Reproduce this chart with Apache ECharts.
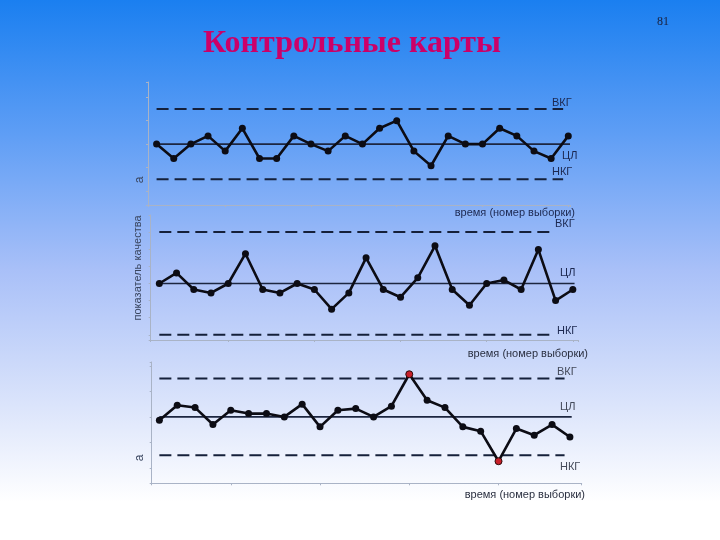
<!DOCTYPE html>
<html>
<head>
<meta charset="utf-8">
<style>
html,body{margin:0;padding:0;width:720px;height:540px;overflow:hidden;}
#c{width:720px;height:540px;}
</style>
<script src="https://cdn.jsdelivr.net/npm/echarts@6/dist/echarts.min.js"></script>
</head>
<body>
<div id="c"></div>
<script>
// ---- data (values in sigma units, centre line = 0) ----
const chart1Values = [0,-1.23,0,0.7,-0.6,1.35,-1.23,-1.23,0.7,0,-0.6,0.7,0,1.35,2.0,-0.6,-1.85,0.7,0,0,1.35,0.7,-0.6,-1.23,0.7];
const chart2Values = [0,0.62,-0.35,-0.55,0,1.74,-0.35,-0.55,0,-0.35,-1.5,-0.55,1.5,-0.35,-0.8,0.33,2.2,-0.35,-1.27,0,0.2,-0.35,1.98,-1.0,-0.35];
const chart3Values = [-0.26,0.91,0.73,-0.6,0.52,0.26,0.26,0,1.0,-0.78,0.52,0.65,0,0.84,3.34,1.3,0.73,-0.78,-1.12,-3.47,-0.91,-1.43,-0.6,-1.57];
const chart3OutOfControl = [15, 20];          // sample numbers drawn in red
const limitUCL = 3, limitCL = 0, limitLCL = -3;
const limitNames = ['ВКГ', 'ЦЛ', 'НКГ'];
const titleText = 'Контрольные карты';
const pageNumber = '81';
const xAxisTitle = 'время (номер выборки)';
const yAxisTitle = 'показатель качества';

// ---- layout ----
const grids = [
  {left:148,   top:82,  width:422,   height:123,   xMin:0.5,  xMax:25.1,  yMin:-5.2, yMax:5.3,
   dashFrom:1, dashTo:24.7, clFrom:0.9, clTo:25.1},
  {left:150.7, top:215, width:427.3, height:125,   xMin:0.5,  xMax:25.3,  yMin:-3.3, yMax:4.0,
   dashFrom:1, dashTo:23.7, clFrom:0.93, clTo:25.1},
  {left:151.7, top:362, width:430,   height:121.3, xMin:0.57, xMax:24.66, yMin:-5.2, yMax:4.3,
   dashFrom:1, dashTo:23.7, clFrom:1, clTo:24.1}
];
const allValues = [chart1Values, chart2Values, chart3Values];

const axisCol = '#a9b3c6';
const lineCol = '#0c0c14';
const limitCol = '#15203a';

const option = {
  backgroundColor: new echarts.graphic.LinearGradient(0,0,0,1,[
    {offset:0, color:'#1a7ff0'},
    {offset:0.25, color:'#5f9ef5'},
    {offset:0.5, color:'#a9c0f8'},
    {offset:0.75, color:'#dbe4fb'},
    {offset:0.93, color:'#ffffff'},
    {offset:1, color:'#ffffff'}
  ]),
  animation:false,
  grid: grids.map(g => ({left:g.left, top:g.top, width:g.width, height:g.height})),
  xAxis: grids.map((g,i) => ({
    type:'value', gridIndex:i, min:g.xMin, max:g.xMax,
    axisLine:{show:true, onZero:false, lineStyle:{color:axisCol, width:1}},
    axisTick:{show:true, length:2, lineStyle:{color:axisCol}},
    axisLabel:{show:false}, splitLine:{show:false}
  })),
  yAxis: grids.map((g,i) => ({
    type:'value', gridIndex:i, min:g.yMin, max:g.yMax,
    axisLine:{show:true, lineStyle:{color:axisCol, width:1}},
    axisTick:{show:true, length:2, lineStyle:{color:axisCol}},
    axisLabel:{show:false}, splitLine:{show:false}
  })),
  series: [],
  graphic: []
};

grids.forEach((g,i) => {
  // limit lines
  option.series.push({
    type:'line', xAxisIndex:i, yAxisIndex:i, symbol:'none', silent:true,
    data:[[g.dashFrom, limitUCL],[g.dashTo, limitUCL]],
    lineStyle:{color:limitCol, width:2, type:[12,6]}, z:1
  });
  option.series.push({
    type:'line', xAxisIndex:i, yAxisIndex:i, symbol:'none', silent:true,
    data:[[g.dashFrom, limitLCL],[g.dashTo, limitLCL]],
    lineStyle:{color:limitCol, width:2, type:[12,6]}, z:1
  });
  option.series.push({
    type:'line', xAxisIndex:i, yAxisIndex:i, symbol:'none', silent:true,
    data:[[g.clFrom, limitCL],[g.clTo, limitCL]],
    lineStyle:{color:'#1c2640', width:1.6}, z:1
  });
  // measured values
  const vals = allValues[i];
  option.series.push({
    type:'line', xAxisIndex:i, yAxisIndex:i,
    data: vals.map((v,k) => {
      const n = k+1;
      const item = {value:[n, v]};
      if (i === 2 && chart3OutOfControl.includes(n)) {
        item.itemStyle = {color:'#c8202a', borderColor:'#2a0a0a', borderWidth:1};
      }
      return item;
    }),
    symbol:'circle', symbolSize:7, showSymbol:true,
    itemStyle:{color:lineCol, borderColor:lineCol, borderWidth:0},
    lineStyle:{color:lineCol, width:2.6}, z:3
  });
});

// titles and annotations
const txt = (x,y,text,style) => ({type:'text', x:x, y:y, silent:true,
  style:Object.assign({text:text, fill:'#1c2850', font:'11px "Liberation Sans", Arial, sans-serif',
    textAlign:'left', textVerticalAlign:'middle'}, style||{})});

option.graphic.push(txt(352, 44, titleText, {fill:'#cc0068', font:'bold 32px "Liberation Serif", "Times New Roman", serif', textAlign:'center'}));
option.graphic.push(txt(663, 22, pageNumber, {fill:'#1a1f3a', font:'12px "Liberation Serif", serif', textAlign:'center'}));

// limit labels
const labelPos = [
  [[552,103],[562,156],[552,172]],
  [[555,224],[560,273],[557,331]],
  [[557,372],[560,407],[560,467]]
];
labelPos.forEach((arr,i) => arr.forEach((p,k) => {
  option.graphic.push(txt(p[0], p[1], limitNames[k], {fill: i===2 ? '#444a5a' : '#1c2850'}));
}));
// x axis titles
[[575,213],[588,354],[585,495]].forEach((p,i) => {
  option.graphic.push(txt(p[0], p[1], xAxisTitle, {textAlign:'right', fill: i===0 ? '#1c2850' : '#2a2f40'}));
});
// y axis title (rotated)
option.graphic.push({type:'text', x:138, y:268, rotation:Math.PI/2, silent:true,
  style:{text:yAxisTitle, fill:'#3a4660', font:'11px "Liberation Sans", Arial, sans-serif',
    textAlign:'center', textVerticalAlign:'middle'}});
// clipped fragments of the y axis title in the other panels
[[140,180],[140,458]].forEach(p => {
  option.graphic.push({type:'text', x:p[0], y:p[1], rotation:Math.PI/2, silent:true,
    style:{text:'а', fill:'#3a4660', font:'12px "Liberation Sans", Arial, sans-serif',
      textAlign:'center', textVerticalAlign:'middle'}});
});

const chart = echarts.init(document.getElementById('c'), null, {renderer:'canvas'});
chart.setOption(option);
</script>
</body>
</html>
